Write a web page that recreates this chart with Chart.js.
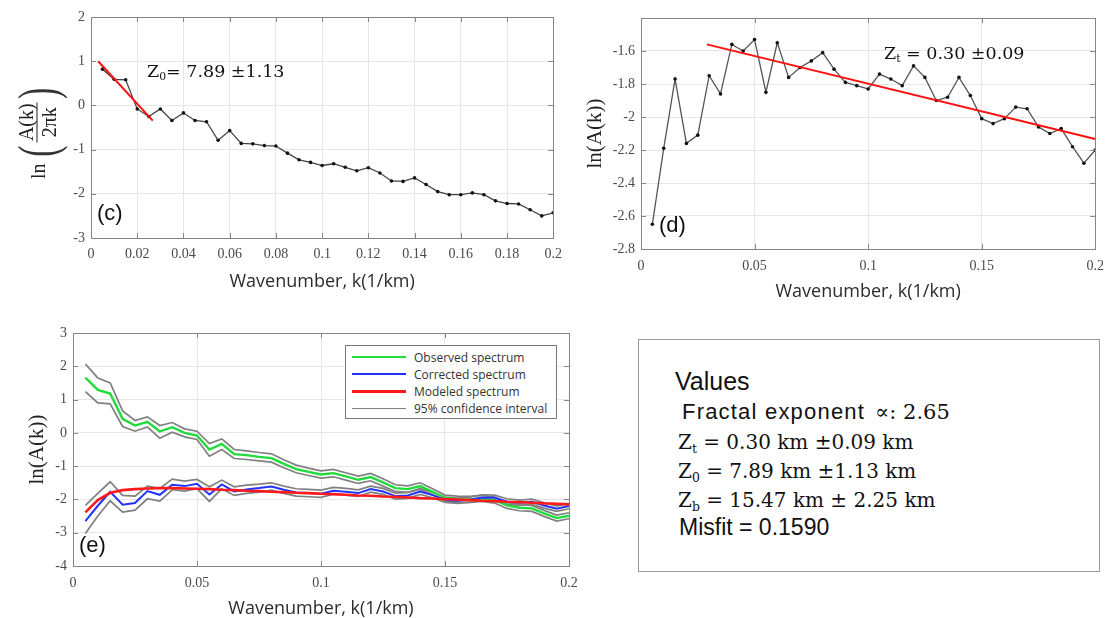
<!DOCTYPE html>
<html>
<head>
<meta charset="utf-8">
<script src="https://cdn.jsdelivr.net/npm/chart.js@4.4.1/dist/chart.umd.min.js"></script>
<style>
  html, body { margin: 0; padding: 0; background: #fff; }
  body { position: relative; width: 1113px; height: 618px; overflow: hidden; }
  canvas { position: absolute; }
  #cv-c { left: 0; top: 0; }
  #cv-d { left: 560px; top: 0; }
  #cv-e { left: 0; top: 310px; }
  .note { position: absolute; white-space: nowrap; line-height: 1; color: #111; }
  .math { font-family: 'DejaVu Serif', serif; }
  .sans { font-family: 'Liberation Sans', Arial, sans-serif; }
  sub { font-size: 0.62em; vertical-align: -0.3em; line-height: 0; }

  /* y title of panel (c): ln( A(k) / 2πk ) */
  #ylab-c {
    position: absolute; left: -8px; top: 105px; width: 90px; height: 53px;
    display: flex; align-items: center; justify-content: center;
    transform: rotate(-90deg); font-family: 'Liberation Serif', serif;
    font-size: 20px; color: #222; line-height: 1;
  }
  #ylab-c .ln { margin-right: 3px; }
  #ylab-c .paren { font-size: 55px; display: inline-block; transform: scaleX(0.6); font-weight: 300; color: #333; }
  #ylab-c .frac { display: inline-flex; flex-direction: column; align-items: center; }
  #ylab-c .frac span:first-child { border-bottom: 1.3px solid #222; padding: 0 1px 1px; }
  #ylab-c .frac span:last-child { padding-top: 1px; }

  #legend-e {
    position: absolute; left: 345px; top: 345px; width: 210px; height: 72px;
    border: 1px solid #777; background: #fff;
    font-family: 'Open Sans', sans-serif; font-size: 12px; color: #333;
  }
  #legend-e .row { position: absolute; left: 6px; height: 14px; display: flex; align-items: center; }
  #legend-e .row i { display: inline-block; width: 54px; margin-right: 8px; }

  #vals { position: absolute; left: 638px; top: 339px; width: 460px; height: 231px; border: 1px solid #999; }
</style>
</head>
<body>
<canvas id="cv-c" width="570" height="300"></canvas>
<canvas id="cv-d" width="553" height="310"></canvas>
<canvas id="cv-e" width="600" height="310"></canvas>

<div id="ylab-c"><span class="ln">ln</span><span class="paren">(</span><span class="frac"><span>A(k)</span><span>2πk</span></span><span class="paren">)</span></div>

<div class="note math" style="left:147px; top:63px; font-size:17.5px;">Z<sub>0</sub>= 7.89 ±1.13</div>
<div class="note math" style="left:884px; top:45px; font-size:17.5px;">Z<sub>t</sub> = 0.30 ±0.09</div>
<div class="note sans" style="left:97px; top:202px; font-size:22px;">(c)</div>
<div class="note sans" style="left:659px; top:214px; font-size:22px;">(d)</div>
<div class="note sans" style="left:79px; top:534px; font-size:22px;">(e)</div>

<div id="legend-e">
  <div class="row" style="top:4px;"><i style="border-top:2.5px solid #1fdc3a;"></i>Observed spectrum</div>
  <div class="row" style="top:21px;"><i style="border-top:2px solid #2233ff;"></i>Corrected spectrum</div>
  <div class="row" style="top:38px;"><i style="border-top:3px solid #ff1a1a;"></i>Modeled spectrum</div>
  <div class="row" style="top:55px;"><i style="border-top:1.5px solid #808080;"></i>95% confidence interval</div>
</div>

<div id="vals"></div>
<div class="note sans" style="left:675px; top:369px; font-size:25px;">Values</div>
<div class="note sans" style="left:682px; top:401px; font-size:22px; letter-spacing:1.2px;">Fractal exponent<span class="math" style="margin-left:10px; font-size:21px; letter-spacing:0;">∝: 2.65</span></div>
<div class="note math" style="left:678px; top:432px; font-size:20px;">Z<sub>t</sub> = 0.30 km ±0.09 km</div>
<div class="note math" style="left:678px; top:461px; font-size:20px;">Z<sub>0</sub> = 7.89 km ±1.13 km</div>
<div class="note math" style="left:678px; top:490px; font-size:20px;">Z<sub>b</sub> = 15.47 km ± 2.25 km</div>
<div class="note sans" style="left:679px; top:516px; font-size:23px;">Misfit = 0.1590</div>

<script>
// wavenumber k (1/km)
const kVals = [0.005, 0.01, 0.015, 0.02, 0.025, 0.03, 0.035, 0.04, 0.045, 0.05,
  0.055, 0.06, 0.065, 0.07, 0.075, 0.08, 0.085, 0.09, 0.095, 0.1,
  0.105, 0.11, 0.115, 0.12, 0.125, 0.13, 0.135, 0.14, 0.145, 0.15,
  0.155, 0.16, 0.165, 0.17, 0.175, 0.18, 0.185, 0.19, 0.195, 0.2];

// (c) ln(A(k)/2πk)
const lnAover2pik = [0.82, 0.59, 0.58, -0.08, -0.25, -0.08, -0.34, -0.17, -0.34, -0.37,
  -0.79, -0.57, -0.86, -0.87, -0.91, -0.92, -1.08, -1.23, -1.29, -1.36,
  -1.32, -1.40, -1.48, -1.41, -1.53, -1.71, -1.72, -1.64, -1.79, -1.95,
  -2.02, -2.02, -1.98, -2.02, -2.16, -2.22, -2.23, -2.36, -2.50, -2.43];
const z0FitK = [0.0031, 0.0267];
const z0FitY = [1.0, -0.346];

// (d) ln(A(k)) corrected spectrum, also blue in (e)
const corrected = [-2.65, -2.19, -1.77, -2.16, -2.11, -1.75, -1.86, -1.56, -1.60, -1.53,
  -1.85, -1.55, -1.76, -1.70, -1.66, -1.61, -1.71, -1.79, -1.81, -1.83,
  -1.74, -1.77, -1.81, -1.69, -1.76, -1.90, -1.88, -1.76, -1.87, -2.01,
  -2.04, -2.01, -1.94, -1.95, -2.06, -2.10, -2.07, -2.18, -2.28, -2.20];
const ztFitK = [0.029, 0.2];
const ztFitY = [-1.56, -2.133];

// (e) spectra
const observed = [1.66, 1.29, 1.18, 0.42, 0.22, 0.33, 0.04, 0.17, 0.0, -0.08,
  -0.5, -0.33, -0.64, -0.67, -0.72, -0.76, -0.93, -1.09, -1.17, -1.25,
  -1.21, -1.31, -1.41, -1.33, -1.49, -1.66, -1.69, -1.6, -1.77, -1.96,
  -1.99, -2.0, -1.97, -2.02, -2.18, -2.25, -2.27, -2.42, -2.56, -2.49];
const obsHi = [2.07, 1.65, 1.5, 0.66, 0.37, 0.48, 0.22, 0.31, 0.12, 0.05,
  -0.32, -0.18, -0.5, -0.54, -0.59, -0.63, -0.81, -0.97, -1.06, -1.14,
  -1.1, -1.2, -1.3, -1.22, -1.38, -1.56, -1.59, -1.5, -1.68, -1.87,
  -1.9, -1.91, -1.88, -1.93, -2.09, -2.16, -2.18, -2.33, -2.47, -2.4];
const obsLo = [1.24, 0.9, 0.87, 0.19, 0.05, 0.18, -0.16, 0.02, -0.12, -0.2,
  -0.7, -0.5, -0.77, -0.8, -0.84, -0.88, -1.05, -1.2, -1.28, -1.36,
  -1.32, -1.42, -1.52, -1.44, -1.6, -1.76, -1.79, -1.7, -1.86, -2.05,
  -2.08, -2.09, -2.06, -2.11, -2.27, -2.34, -2.36, -2.51, -2.65, -2.58];
const corHi = [-2.18, -1.82, -1.47, -1.88, -1.9, -1.6, -1.67, -1.39, -1.45, -1.4,
  -1.62, -1.42, -1.62, -1.57, -1.54, -1.5, -1.6, -1.68, -1.7, -1.72,
  -1.64, -1.67, -1.71, -1.6, -1.67, -1.81, -1.79, -1.67, -1.79, -1.93,
  -1.96, -1.93, -1.86, -1.87, -1.98, -2.02, -1.99, -2.1, -2.2, -2.12];
const corLo = [-3.02, -2.5, -2.04, -2.38, -2.32, -1.98, -2.05, -1.71, -1.75, -1.68,
  -2.06, -1.68, -1.88, -1.82, -1.78, -1.72, -1.82, -1.9, -1.92, -1.94,
  -1.84, -1.87, -1.91, -1.78, -1.85, -1.99, -1.97, -1.85, -1.95, -2.09,
  -2.12, -2.09, -2.02, -2.03, -2.14, -2.18, -2.15, -2.26, -2.36, -2.28];
const modeled = [-2.39, -2.02, -1.8, -1.72, -1.69, -1.67, -1.66, -1.66, -1.67, -1.68,
  -1.69, -1.71, -1.72, -1.74, -1.75, -1.77, -1.78, -1.8, -1.81, -1.83,
  -1.84, -1.86, -1.88, -1.89, -1.91, -1.92, -1.94, -1.96, -1.97, -1.99,
  -2.0, -2.02, -2.04, -2.05, -2.07, -2.08, -2.1, -2.12, -2.13, -2.15];

Chart.defaults.font.family = "'Liberation Serif', serif";
Chart.defaults.font.size = 14;
Chart.defaults.color = '#444';

const tickFont = { family: "'Liberation Serif', 'Times New Roman', serif", size: 14 };
const pts = (xs, ys) => ys.map((v, i) => ({ x: xs[i], y: v }));
const fmt = v => String(+v.toFixed(3));

// matlab style box with inward ticks
const frame = {
  id: 'frame',
  afterDatasetsDraw(chart) {
    const { ctx, chartArea: a, scales: { x, y } } = chart;
    ctx.save();
    ctx.strokeStyle = '#858585';
    ctx.lineWidth = 1;
    ctx.beginPath();
    x.ticks.forEach(t => {
      const px = Math.round(x.getPixelForValue(t.value)) + 0.5;
      ctx.moveTo(px, a.bottom); ctx.lineTo(px, a.bottom - 5);
      ctx.moveTo(px, a.top); ctx.lineTo(px, a.top + 5);
    });
    y.ticks.forEach(t => {
      const py = Math.round(y.getPixelForValue(t.value)) + 0.5;
      ctx.moveTo(a.left, py); ctx.lineTo(a.left + 5, py);
      ctx.moveTo(a.right, py); ctx.lineTo(a.right - 5, py);
    });
    ctx.stroke();
    ctx.strokeRect(Math.round(a.left) + 0.5, Math.round(a.top) + 0.5,
      Math.round(a.right - a.left), Math.round(a.bottom - a.top));
    ctx.restore();
  }
};

function xAxis(step, h, titlePad, tickPad) {
  return {
    type: 'linear', min: 0, max: 0.2,
    afterFit: s => { s.height = h; },
    ticks: { stepSize: step, padding: tickPad, callback: fmt, maxRotation: 0, autoSkip: false,
      font: tickFont, color: '#4a4a4a' },
    grid: { color: '#e6e6e6', drawTicks: false },
    border: { display: false },
    title: {
      display: true, text: 'Wavenumber, k(1/km)', color: '#2b2b2b',
      font: { family: "'Open Sans', sans-serif", size: 18 },
      padding: { top: 0, bottom: titlePad }
    }
  };
}

function yAxis(min, max, step, w, title, titlePad, hide) {
  return {
    type: 'linear', min, max,
    afterFit: s => { s.width = w; },
    ticks: {
      stepSize: step, padding: 6, autoSkip: false, font: tickFont, color: '#4a4a4a',
      callback: v => (hide !== undefined && Math.abs(v - hide) < 1e-6) ? '' : fmt(v)
    },
    grid: { color: '#e6e6e6', drawTicks: false },
    border: { display: false },
    title: {
      display: !!title, text: title, color: '#222',
      font: { family: "'Liberation Serif', serif", size: 21 },
      padding: { top: titlePad, bottom: 0 }
    }
  };
}

const baseOpts = {
  responsive: false, animation: false, devicePixelRatio: 1,
  plugins: { legend: { display: false }, tooltip: { enabled: false } }
};

// panel (c)
new Chart(document.getElementById('cv-c'), {
  type: 'line',
  data: {
    datasets: [
      { data: pts(z0FitK, z0FitY), borderColor: '#ff1010', borderWidth: 2, pointRadius: 0 },
      { data: pts(kVals, lnAover2pik), borderColor: '#444', borderWidth: 1.3,
        pointRadius: 1.8, pointBackgroundColor: '#111', pointBorderWidth: 0 }
    ]
  },
  options: {
    ...baseOpts,
    layout: { padding: { top: 17, right: 12, left: 0, bottom: 0 } },
    scales: { x: xAxis(0.02, 62, 7, 8), y: yAxis(-3, 2, 1, 91, '', 0) }
  },
  plugins: [frame]
});

// panel (d)
new Chart(document.getElementById('cv-d'), {
  type: 'line',
  data: {
    datasets: [
      { data: pts(ztFitK, ztFitY), borderColor: '#ff1010', borderWidth: 2, pointRadius: 0 },
      { data: pts(kVals, corrected), borderColor: '#555', borderWidth: 1.3,
        pointRadius: 1.8, pointBackgroundColor: '#111', pointBorderWidth: 0 }
    ]
  },
  options: {
    ...baseOpts,
    layout: { padding: { top: 18, right: 11, left: 0, bottom: 0 } },
    scales: { x: xAxis(0.05, 61, 7, 9), y: yAxis(-2.8, -1.4, 0.2, 81, 'ln(A(k))', 23, -1.4) }
  },
  plugins: [frame]
});

// panel (e)
const band = arr => ({ data: pts(kVals, arr), borderColor: '#808080', borderWidth: 1.7, pointRadius: 0 });
new Chart(document.getElementById('cv-e'), {
  type: 'line',
  data: {
    datasets: [
      { data: pts(kVals, modeled), borderColor: '#ff1a1a', borderWidth: 2.6, pointRadius: 0 },
      { data: pts(kVals, corrected), borderColor: '#2233ff', borderWidth: 2, pointRadius: 0 },
      { data: pts(kVals, observed), borderColor: '#1fdc3a', borderWidth: 2.4, pointRadius: 0 },
      band(obsHi), band(obsLo), band(corHi), band(corLo)
    ]
  },
  options: {
    ...baseOpts,
    layout: { padding: { top: 23, right: 31, left: 0, bottom: 0 } },
    scales: { x: xAxis(0.05, 54, 0, 9), y: yAxis(-4, 3, 1, 73, 'ln(A(k))', 25) }
  },
  plugins: [frame]
});
</script>
</body>
</html>
